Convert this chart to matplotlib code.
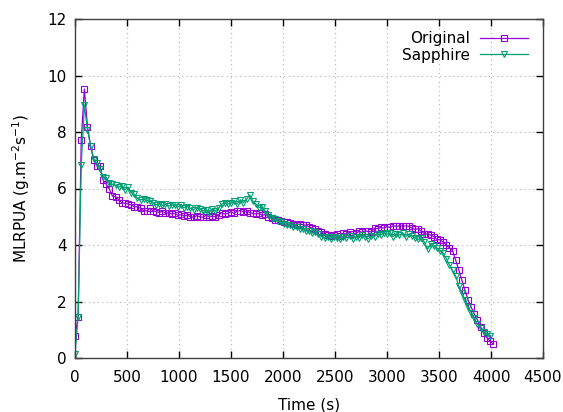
import numpy as np
import matplotlib
matplotlib.use('Agg')
import matplotlib.pyplot as plt

# Time axis (s), 30 s sampling
time_orig = np.arange(0, 4021, 30)
time_sapph = np.arange(0, 3991, 30)

mlr_original = [
    0.78, 1.45, 7.72, 9.52, 8.19, 7.50, 7.00, 6.80, 6.80, 6.30,
    6.15, 5.98, 5.73, 5.71, 5.60, 5.50, 5.48, 5.45, 5.42, 5.36,
    5.35, 5.30, 5.22, 5.20, 5.30, 5.22, 5.18, 5.15, 5.20, 5.12,
    5.14, 5.10, 5.12, 5.05, 5.08, 5.02, 5.06, 5.00, 4.98, 5.04,
    5.00, 4.98, 5.05, 5.00, 5.02, 5.00, 5.05, 5.15, 5.10, 5.12,
    5.18, 5.12, 5.20, 5.22, 5.18, 5.20, 5.15, 5.12, 5.10, 5.12,
    5.05, 5.08, 5.00, 4.95, 4.90, 4.88, 4.85, 4.82, 4.80, 4.78,
    4.75, 4.72, 4.74, 4.72, 4.70, 4.65, 4.60, 4.55, 4.50, 4.45,
    4.40, 4.35, 4.33, 4.35, 4.38, 4.32, 4.42, 4.38, 4.45, 4.40,
    4.42, 4.48, 4.45, 4.50, 4.48, 4.46, 4.60, 4.58, 4.62, 4.60,
    4.65, 4.62, 4.68, 4.66, 4.68, 4.67, 4.68, 4.66, 4.60, 4.55,
    4.58, 4.48, 4.40, 4.38, 4.35, 4.30, 4.20, 4.18, 4.10, 4.00,
    3.90, 3.80, 3.47, 3.12, 2.75, 2.40, 2.05, 1.80, 1.55, 1.35,
    1.10, 0.90, 0.72, 0.60, 0.50,
]

mlr_sapphire = [
    0.14, 1.45, 6.83, 8.96, 8.07, 7.52, 7.05, 6.90, 6.70, 6.40,
    6.38, 6.20, 6.15, 6.12, 6.05, 6.10, 5.95, 6.05, 5.85, 5.80,
    5.65, 5.60, 5.62, 5.58, 5.55, 5.50, 5.42, 5.45, 5.40, 5.45,
    5.38, 5.42, 5.40, 5.35, 5.40, 5.32, 5.36, 5.30, 5.25, 5.32,
    5.28, 5.20, 5.25, 5.15, 5.28, 5.20, 5.30, 5.45, 5.48, 5.45,
    5.48, 5.55, 5.45, 5.60, 5.50, 5.62, 5.77, 5.55, 5.45, 5.32,
    5.35, 5.20, 5.05, 4.95, 4.92, 4.85, 4.80, 4.75, 4.70, 4.72,
    4.62, 4.65, 4.58, 4.55, 4.50, 4.48, 4.42, 4.45, 4.38, 4.30,
    4.25, 4.30, 4.22, 4.28, 4.25, 4.20, 4.30, 4.25, 4.32, 4.22,
    4.30, 4.25, 4.35, 4.30, 4.22, 4.32, 4.30, 4.40, 4.35, 4.42,
    4.38, 4.42, 4.30, 4.40, 4.35, 4.42, 4.30, 4.38, 4.32, 4.25,
    4.20, 4.25, 4.10, 3.85, 4.05, 3.95, 3.90, 3.80, 3.72, 3.52,
    3.30, 3.10, 2.90, 2.55, 2.30, 2.05, 1.80, 1.60, 1.40, 1.20,
    1.05, 0.92, 0.85, 0.78,
]

fig = plt.figure(figsize=(5.63, 4.12), dpi=100)
ax = fig.add_axes([75 / 563, 1 - 358 / 412, 468 / 563, 339 / 412])

ax.plot(time_orig, mlr_original, color='#9400d3', lw=0.9, marker='s',
        markersize=4.2, markerfacecolor='none', markeredgewidth=0.8,
        label='Original')
ax.plot(time_sapph, mlr_sapphire, color='#009e73', lw=0.9, marker='v',
        markersize=4.2, markerfacecolor='none', markeredgewidth=0.8,
        label='Sapphire')

ax.set_xlim(0, 4500)
ax.set_ylim(0, 12)
ax.set_xticks(np.arange(0, 4501, 500))
ax.set_yticks(np.arange(0, 13, 2))
ax.tick_params(direction='in', length=5, width=1, top=True, right=True,
               labelsize=11, colors='black')
ax.tick_params(axis='x', pad=9)
ax.tick_params(axis='y', pad=6)
ax.grid(True, color='#b0b0b0', linestyle=(0, (1, 3)), linewidth=0.8)
for s in ax.spines.values():
    s.set_color('#404040')
    s.set_linewidth(1)

ax.set_xlabel('Time (s)', fontsize=11, labelpad=9)
ax.set_ylabel('MLRPUA (g.m$^{-2}$s$^{-1}$)', fontsize=11, labelpad=11)

ax.legend(loc='upper right', frameon=False, markerfirst=False,
          fontsize=11, handlelength=3.2, labelspacing=0.1,
          borderaxespad=0.3, handletextpad=0.6, borderpad=0.5,
          bbox_to_anchor=(0.995, 1.0))

fig.savefig('out.png', dpi=100)
